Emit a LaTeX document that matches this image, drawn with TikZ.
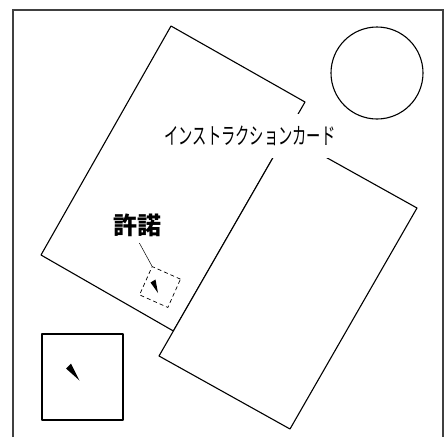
\documentclass[tikz,border=0pt]{standalone}
\usepackage{fontspec}
\newfontfamily\jpfont{Noto Sans CJK JP}
\begin{document}
\begin{tikzpicture}[x=1pt, y=-1pt,
	linie/.style={line width=1.1pt, draw=black, line join=round},
	karte/.style={linie, fill={rgb:white,255}}]
	\useasboundingbox (0,0) rectangle (445,437);
	% Rahmen
	\draw[line width=1.2pt, draw=black!75] (13,437) -- (13,10) -- (443,10) -- (443,437);
	% Scheibe oben rechts
	\draw[linie] (377,73) circle (46pt);
	% Karten
	\filldraw[karte] (171,26) -- (305,102) -- (173.4,331) -- (41,255) -- cycle;
	\filldraw[karte] (286,135) -- (417,208) -- (290,429) -- (159,356) -- cycle;
	\node[fill={rgb:white,255}, minimum width=176pt, minimum height=44pt,
	inner sep=0pt] (karte) at (250,135.5)
	{\jpfont\fontsize{23}{23}\selectfont\scalebox{0.62}[1]{インストラクションカード}};
	% Feld mit Zeiger
	\node[draw, dashed, dash pattern=on 4pt off 3pt, line width=0.7pt,
	rotate=-24, minimum size=31pt, inner sep=0pt] (feld) at (160,287) {};
	\fill (150.5,282.5) -- (155.5,279.5) -- (158,293) -- cycle;
	\node[inner sep=2pt] (erlaubnis) at (137,225)
	{\jpfont\bfseries\fontsize{24}{24}\selectfont 許諾};
	\draw[line width=0.5pt, shorten <=5pt] (erlaubnis.south) -- (feld.north west);
	% Fenster unten links
	\draw[linie] (42,334) rectangle (123,420);
	\fill (66,368.5) -- (71,363.5) -- (79.5,380.5) -- cycle;
\end{tikzpicture}
\end{document}
